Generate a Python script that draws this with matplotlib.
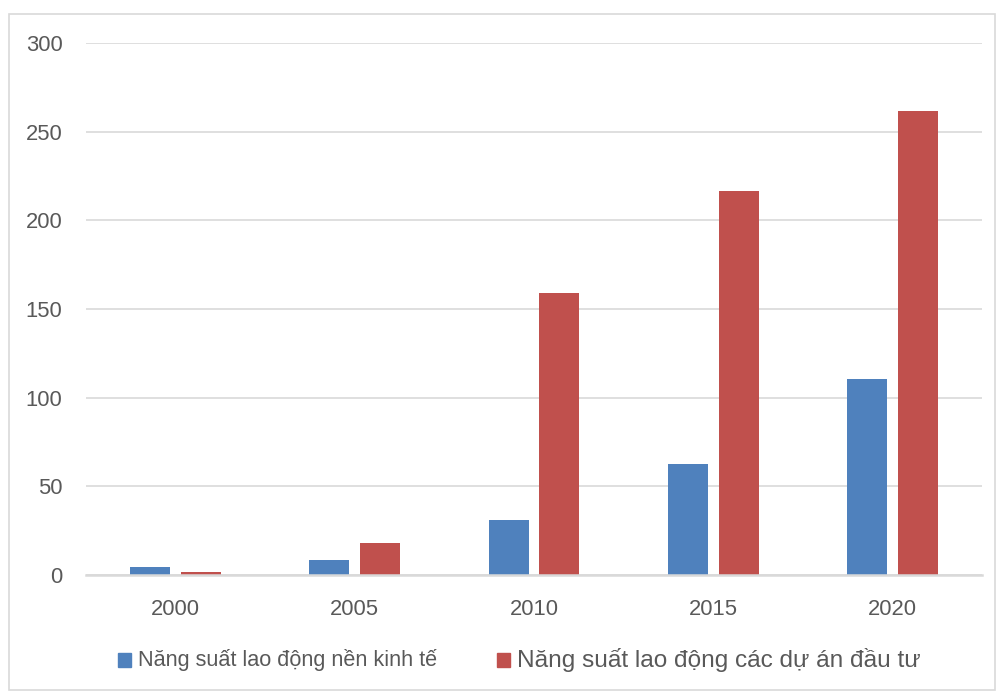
import matplotlib.pyplot as plt
import numpy as np
from matplotlib.patches import Rectangle

plt.rcParams['font.family'] = ['Liberation Sans', 'DejaVu Sans']

years = ['2000', '2005', '2010', '2015', '2020']
nang_suat_kinh_te = [4.5, 8.5, 31, 62.6, 110.4]
nang_suat_du_an = [1.5, 18, 159, 216.5, 261.7]
labels = ['Năng suất lao động nền kinh tế', 'Năng suất lao động các dự án đầu tư']
yticks = [0, 50, 100, 150, 200, 250, 300]

blue = '#4F81BD'
red = '#C0504D'
txt = '#595959'
grid = '#D9D9D9'

fig = plt.figure(figsize=(9.96, 6.91), dpi=100)
ax = fig.add_axes([86/996, 116/691, 896/996, 532/691])

x = np.arange(len(years))
w = 0.223
off = 0.142
ax.bar(x - off, nang_suat_kinh_te, width=w, color=blue, label=labels[0])
ax.bar(x + off, nang_suat_du_an, width=w, color=red, label=labels[1])

ax.set_xlim(-0.5, 4.5)
ax.set_ylim(0, 300)
ax.set_yticks(yticks)
ax.set_yticklabels([str(v) for v in yticks], fontsize=15.8, color=txt)
ax.set_xticks(x)
ax.set_xticklabels(years, fontsize=15.8, color=txt)
ax.tick_params(length=0)
ax.tick_params(axis='y', pad=17)
ax.tick_params(axis='x', pad=17)
for s in ['top', 'right', 'left']:
    ax.spines[s].set_visible(False)
ax.spines['bottom'].set_color(grid)
ax.spines['bottom'].set_linewidth(1.8)
ax.yaxis.grid(True, color=grid, linewidth=1.2)
ax.set_axisbelow(True)

# outer chart border
fig.patches.append(Rectangle((9/996, 1/691), 986/996, 676/691, transform=fig.transFigure,
                             fill=False, edgecolor=grid, linewidth=1.2))

# legend drawn by hand (two text sizes as in the original)
ly = 1 - 660/691
fig.patches.append(Rectangle((118/996, ly - 7/691), 13/996, 14/691, transform=fig.transFigure,
                             color=blue))
fig.text(138/996, ly, labels[0], fontsize=15.6, color=txt, va='center', ha='left')
fig.patches.append(Rectangle((497/996, ly - 7/691), 13/996, 14/691, transform=fig.transFigure,
                             color=red))
fig.text(517/996, ly, labels[1], fontsize=17.6, color=txt, va='center', ha='left')

plt.savefig('out.png', dpi=100)
